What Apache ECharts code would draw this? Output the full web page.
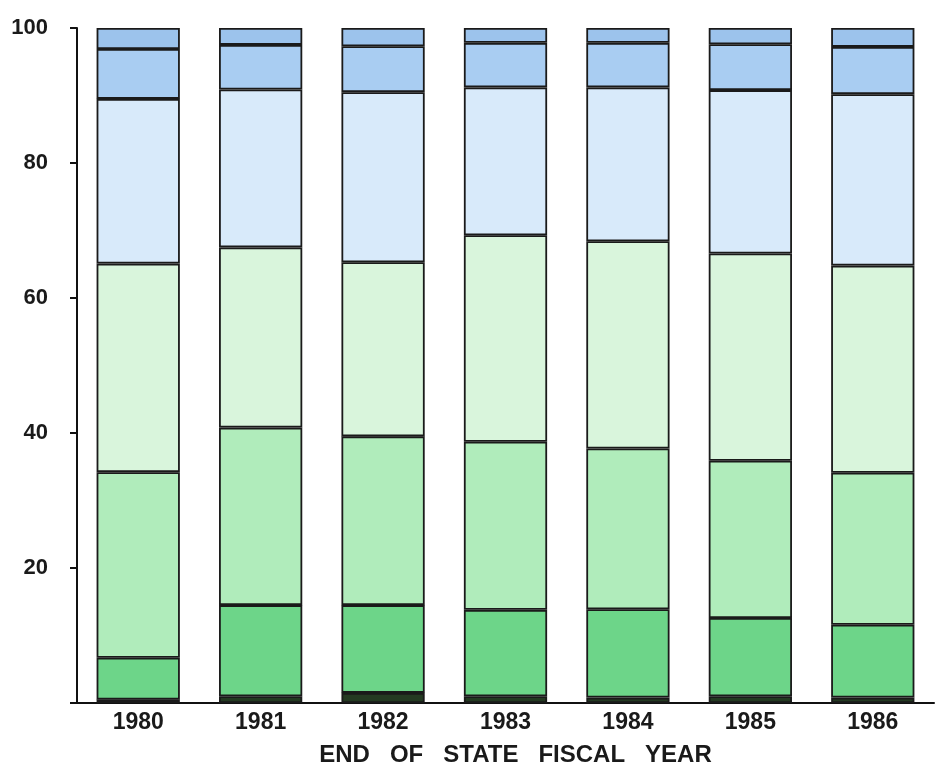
<!DOCTYPE html>
<html lang="en">

<head>
    <meta charset="UTF-8" />
    <title>End of State Fiscal Year</title>
    <script src="https://cdn.jsdelivr.net/npm/echarts@6/dist/echarts.min.js"></script>
    <style>
        html, body { margin: 0; padding: 0; background: #ffffff; }
        #chart { width: 936px; height: 765px; }
    </style>
</head>

<body>
    <div id="chart"></div>

    <script type="text/javascript">
        // categories
        let years = ["1980", "1981", "1982", "1983", "1984", "1985", "1986"];

        // stacked shares (percent), bottom to top
        let band1 = [0.5, 1.0, 1.5, 1.0, 0.8, 1.0, 0.8];
        let band2 = [6.2, 13.5, 13.0, 12.8, 13.1, 11.6, 10.8];
        let band3 = [27.5, 26.3, 25.0, 24.9, 23.8, 23.3, 22.5];
        let band4 = [30.9, 26.7, 25.8, 30.6, 30.7, 30.7, 30.7];
        let band5 = [24.4, 23.4, 25.2, 21.9, 22.8, 24.2, 25.4];
        let band6 = [7.4, 6.6, 6.8, 6.6, 6.6, 6.8, 7.0];
        let band7 = [3.1, 2.5, 2.7, 2.2, 2.2, 2.4, 2.8];

        let bands = [band1, band2, band3, band4, band5, band6, band7];
        let colors = ["#243a22", "#6dd589", "#b0ecbb", "#d9f5dc", "#d8eafa", "#a9cdf2", "#9cc3ec"];

        let font = "'Liberation Sans', Arial, sans-serif";

        let myChart = echarts.init(document.getElementById("chart"), null, {
            width: 936,
            height: 765,
        });

        let option = {
            animation: false,
            backgroundColor: "#ffffff",
            grid: {
                left: 77,
                right: 2,
                top: 28,
                bottom: 62,
                outerBoundsMode: "none",
            },
            xAxis: {
                type: "category",
                data: years,
                name: "END   OF   STATE   FISCAL   YEAR",
                nameLocation: "middle",
                nameGap: 40,
                nameTextStyle: {
                    color: "#1a1a1a",
                    fontFamily: font,
                    fontWeight: "bold",
                    fontSize: 24,
                    padding: [0, 0, 0, 20],
                },
                axisLine: { lineStyle: { color: "#111111", width: 2 } },
                axisTick: { show: false },
                axisLabel: {
                    color: "#1a1a1a",
                    fontFamily: font,
                    fontWeight: "bold",
                    fontSize: 23,
                    margin: 8,
                },
            },
            yAxis: {
                type: "value",
                min: 0,
                max: 100,
                interval: 20,
                axisLine: { show: true, lineStyle: { color: "#111111", width: 2 } },
                axisTick: { show: true, length: 7, lineStyle: { color: "#111111", width: 2 } },
                splitLine: { show: false },
                axisLabel: {
                    color: "#1a1a1a",
                    fontFamily: font,
                    fontWeight: "bold",
                    fontSize: 22,
                    margin: 29,
                    formatter: function (v) {
                        return v === 0 ? "" : v;
                    },
                },
            },
            series: [],
        };

        bands.forEach((b, i) => {
            option.series.push({
                name: "band" + (i + 1),
                type: "bar",
                stack: "total",
                barWidth: "68%",
                data: b,
                itemStyle: {
                    color: colors[i],
                    borderColor: "#1a1a1a",
                    borderWidth: 1.8,
                },
            });
        });

        myChart.setOption(option);
    </script>
</body>

</html>
